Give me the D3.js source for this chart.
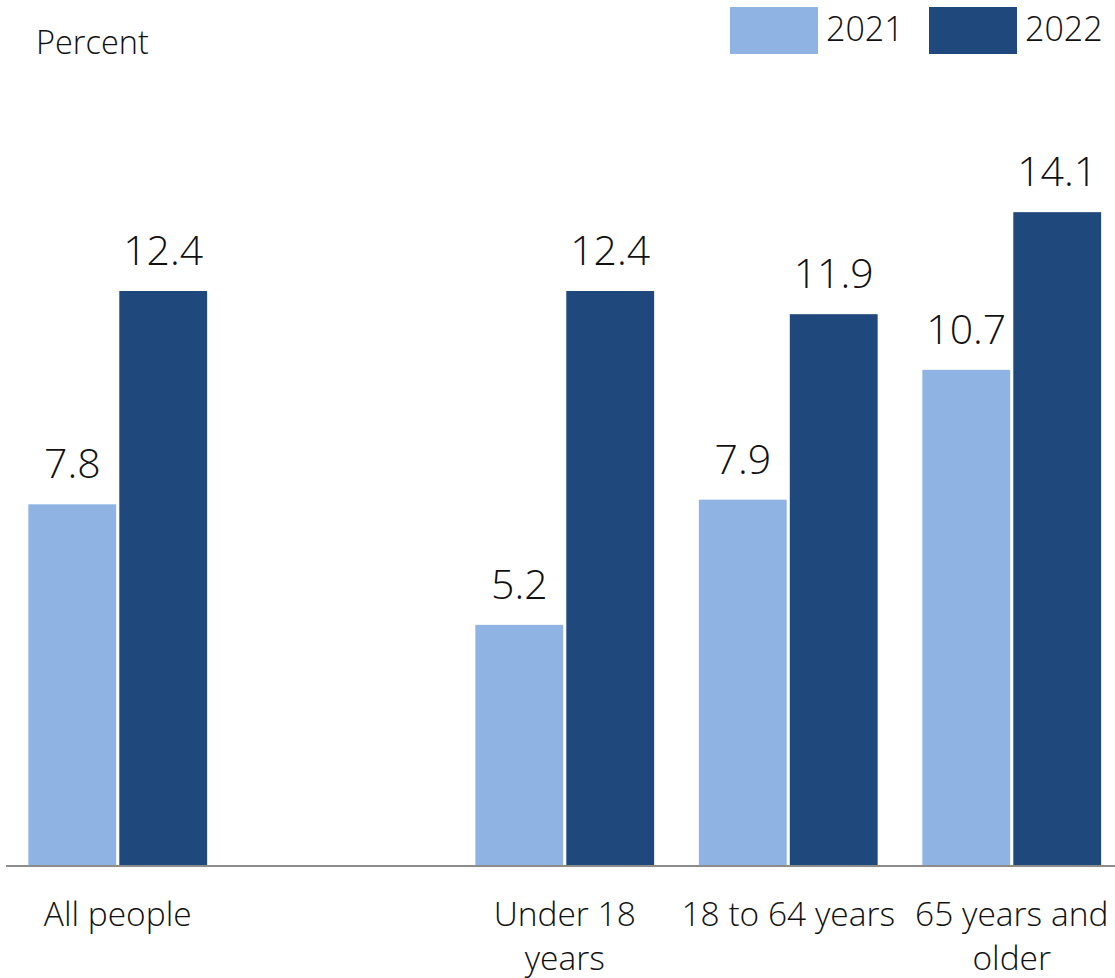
<!DOCTYPE html>
<html><head><meta charset="utf-8">
<script src="https://cdn.jsdelivr.net/npm/d3@7"></script>
<style>
html,body{margin:0;padding:0;background:#fff;}
svg text{font-family:"Open Sans","Noto Sans",sans-serif;font-weight:300;fill:#111;}
</style></head>
<body>
<svg id="chart" width="1115" height="978"></svg>
<script>
const categories = ["All people", "", "Under 18 years", "18 to 64 years", "65 years and older"];
const seriesNames = ["2021", "2022"];
const values2021 = [7.8, null, 5.2, 7.9, 10.7];
const values2022 = [12.4, null, 12.4, 11.9, 14.1];
const colors = ["#8FB4E3", "#1F497D"];

const svg = d3.select("#chart");
const W = 1115, H = 978;
const baseY = 866;

const x = d3.scaleBand().domain(categories).range([6, 1123.5]).paddingInner(0.2).paddingOuter(0.1);
const xs = d3.scaleBand().domain(seriesNames).range([0, x.bandwidth()]).paddingInner(0.034);
const y = d3.scaleLinear().domain([0, 12.4]).range([baseY, 291]);

const rows = categories.map((c, i) => ({cat: c, vals: [values2021[i], values2022[i]]}));

const g = svg.append("g");
rows.forEach(r => {
  r.vals.forEach((v, j) => {
    if (v == null) return;
    const bx = x(r.cat) + xs(seriesNames[j]);
    g.append("rect").attr("x", bx).attr("y", y(v)).attr("width", xs.bandwidth())
      .attr("height", baseY - y(v)).attr("fill", colors[j]);
    g.append("text").attr("x", bx + xs.bandwidth() / 2).attr("y", y(v) - 26)
      .attr("text-anchor", "middle").attr("font-size", 41).text(v.toFixed(1));
  });
});

// baseline axis
const axis = d3.axisBottom(x).tickSize(0).tickFormat("");
const ax = svg.append("g").attr("transform", `translate(0,${baseY})`).call(axis);
ax.select(".domain").attr("stroke", "#8c8c8c").attr("stroke-width", 2).attr("d", `M6,0H${W}`);

// category labels with wrapping
function wrapLines(text, maxW, size) {
  const tmp = svg.append("text").attr("font-size", size);
  const words = text.split(" ");
  const lines = [];
  let cur = "";
  words.forEach(w => {
    const test = cur ? cur + " " + w : w;
    tmp.text(test);
    if (tmp.node().getComputedTextLength() > maxW && cur) { lines.push(cur); cur = w; }
    else cur = test;
  });
  if (cur) lines.push(cur);
  tmp.remove();
  return lines;
}
const labSize = 33.5;
categories.forEach(c => {
  if (!c) return;
  const lines = wrapLines(c, 221, labSize);
  const t = svg.append("text").attr("text-anchor", "middle").attr("font-size", labSize);
  lines.forEach((l, i) => {
    t.append("tspan").attr("x", x(c) + x.bandwidth() / 2).attr("y", 926 + i * 44).text(l);
  });
});

// y-axis title
svg.append("text").attr("x", 36).attr("y", 54).attr("font-size", 32.5).text("Percent");

// legend
const legX = [730, 929];
seriesNames.forEach((s, j) => {
  svg.append("rect").attr("x", legX[j]).attr("y", 7).attr("width", 88).attr("height", 47).attr("fill", colors[j]);
  svg.append("text").attr("x", legX[j] + 96).attr("y", 41).attr("font-size", 34).text(s);
});
</script>
</body></html>
